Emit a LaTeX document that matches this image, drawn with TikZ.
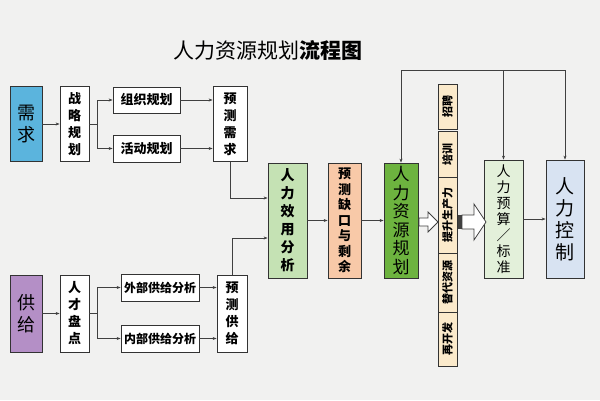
\documentclass[tikz,border=0pt]{standalone}
\usepackage{fontspec}
\setmainfont{Noto Sans CJK SC}
\usetikzlibrary{arrows.meta}
\definecolor{bg}{HTML}{F1F1F0}
\definecolor{cxq}{HTML}{5BB4DD}
\definecolor{cgj}{HTML}{B48FC6}
\definecolor{cxy}{HTML}{C5E2B4}
\definecolor{cqk}{HTML}{F8C9A8}
\definecolor{czy}{HTML}{6DB33F}
\definecolor{cstk}{HTML}{FBEACB}
\definecolor{cys}{HTML}{E3F0DA}
\definecolor{ckz}{HTML}{D8E3F2}
\begin{document}
\begin{tikzpicture}[x=1pt,y=-1pt,
  bx/.style={draw=black!80,line width=0.8pt,fill=white,align=center,inner sep=0pt,font=\bfseries\fontsize{13}{17}\selectfont},
  ar/.style={-{Stealth[length=4pt,width=3pt]},draw=black!75,line width=0.7pt},
  ln/.style={draw=black!75,line width=0.7pt},
  hol/.style={draw=black!75,fill=white,line width=0.8pt,line join=miter}]
\useasboundingbox (0,0) rectangle (600,400);
\fill[bg] (0,0) rectangle (600,400);
\node[font=\fontsize{21}{24}\selectfont] (title) at (268,50) {人力资源规划\textbf{流程图}};
% demand
\node[bx,fill=cxq,minimum width=32pt,minimum height=75pt,font=\fontsize{18}{22}\selectfont] (xq) at (26,124) {需\\求};
\node[bx,minimum width=29pt,minimum height=75pt] (zl) at (74.5,124) {战\\略\\规\\划};
\node[bx,minimum width=67pt,minimum height=26pt] (zz) at (146.5,100) {组织规划};
\node[bx,minimum width=67pt,minimum height=27pt] (hd) at (146.5,148.5) {活动规划};
\node[bx,minimum width=34pt,minimum height=75pt] (ycx) at (230,124) {预\\测\\需\\求};
% supply
\node[bx,fill=cgj,minimum width=32pt,minimum height=77pt,font=\fontsize{18}{22}\selectfont] (gj) at (26,313.5) {供\\给};
\node[bx,minimum width=29pt,minimum height=77pt] (rc) at (74.5,313.5) {人\\才\\盘\\点};
\node[bx,minimum width=78pt,minimum height=27pt,font=\bfseries\fontsize{12}{14}\selectfont] (wb) at (160,287.5) {外部供给分析};
\node[bx,minimum width=78pt,minimum height=27pt,font=\bfseries\fontsize{12}{14}\selectfont] (nb) at (160,338.5) {内部供给分析};
\node[bx,minimum width=30pt,minimum height=77pt] (ycg) at (232,313.5) {预\\测\\供\\给};
% middle
\node[bx,fill=cxy,minimum width=39pt,minimum height=115pt,font=\bfseries\fontsize{14}{18}\selectfont] (xy) at (287.5,220.5) {人\\力\\效\\用\\分\\析};
\node[bx,fill=cqk,minimum width=33pt,minimum height=115pt,font=\bfseries\fontsize{13}{15.5}\selectfont] (qk) at (344.5,220.5) {预\\测\\缺\\口\\与\\剩\\余};
\node[bx,fill=czy,minimum width=34pt,minimum height=115pt,font=\fontsize{17}{18.5}\selectfont\mdseries] (zy) at (401,220.5) {人\\力\\资\\源\\规\\划};
% stack
\begin{scope}[every node/.style={bx,fill=cstk,minimum width=19pt,font=\bfseries\fontsize{11}{12}\selectfont}]
\node[minimum height=45pt] (s1) at (447.5,106.5) {\rotatebox{90}{招聘}};
\node[minimum height=46pt] (s2) at (447.5,154) {\rotatebox{90}{培训}};
\node[minimum height=76pt] (s3) at (447.5,215) {\rotatebox{90}{提升生产力}};
\node[minimum height=59pt] (s4) at (447.5,282.5) {\rotatebox{90}{替代资源}};
\node[minimum height=54pt] (s5) at (447.5,339) {\rotatebox{90}{再开发}};
\end{scope}
\node[bx,fill=cys,minimum width=39pt,minimum height=118pt,font=\fontsize{14}{16}\selectfont\mdseries] (ys) at (503.5,219) {人\\力\\预\\算\\／\\标\\准};
\node[bx,fill=ckz,minimum width=38pt,minimum height=118pt,font=\fontsize{19}{22}\selectfont\mdseries] (kz) at (565,219) {人\\力\\控\\制};
% connectors
\draw[ar] (xq) -- (zl);
\coordinate (b1) at (97,124);
\draw[ln] (zl) -- (b1);
\draw[ln] (97,100) -- (97,148.5);
\draw[ar] (97,100) -- (zz);
\draw[ar] (97,148.5) -- (hd);
\draw[ar] (zz) -- (zz-|ycx.west);
\draw[ar] (hd) -- (hd-|ycx.west);
\draw[ar] (ycx.south) |- (xy.west|-0,198);
\draw[ar] (gj) -- (rc);
\coordinate (b2) at (97,313.5);
\draw[ln] (rc) -- (b2);
\draw[ln] (97,287.5) -- (97,338.5);
\draw[ar] (97,287.5) -- (wb);
\draw[ar] (97,338.5) -- (nb);
\draw[ar] (wb) -- (wb-|ycg.west);
\draw[ar] (nb) -- (nb-|ycg.west);
\draw[ar] (ycg.north) |- (xy.west|-0,238);
\draw[ar] (xy) -- (qk);
\draw[ar] (qk) -- (zy);
\draw[ar] (ys) -- (kz);
\coordinate (t1) at (401,70);
\coordinate (t2) at (565,70);
\draw[ln] (t1) -- (t2);
\draw[ar] (t1) -- (zy.north);
\draw[ar] (503.5,70) -- (ys.north);
\draw[ar] (t2) -- (kz.north);
% hollow arrows
\draw[hol] (419,218) -- (428,218) -- (428,212) -- (438,222) -- (428,232) -- (428,226) -- (419,226) -- cycle;
\draw[hol] (462,215) -- (474,215) -- (474,204) -- (486,222) -- (474,240) -- (474,229) -- (462,229) -- cycle;
\fill[black!75] (457.5,215) rectangle (462,229);
\end{tikzpicture}
\end{document}
